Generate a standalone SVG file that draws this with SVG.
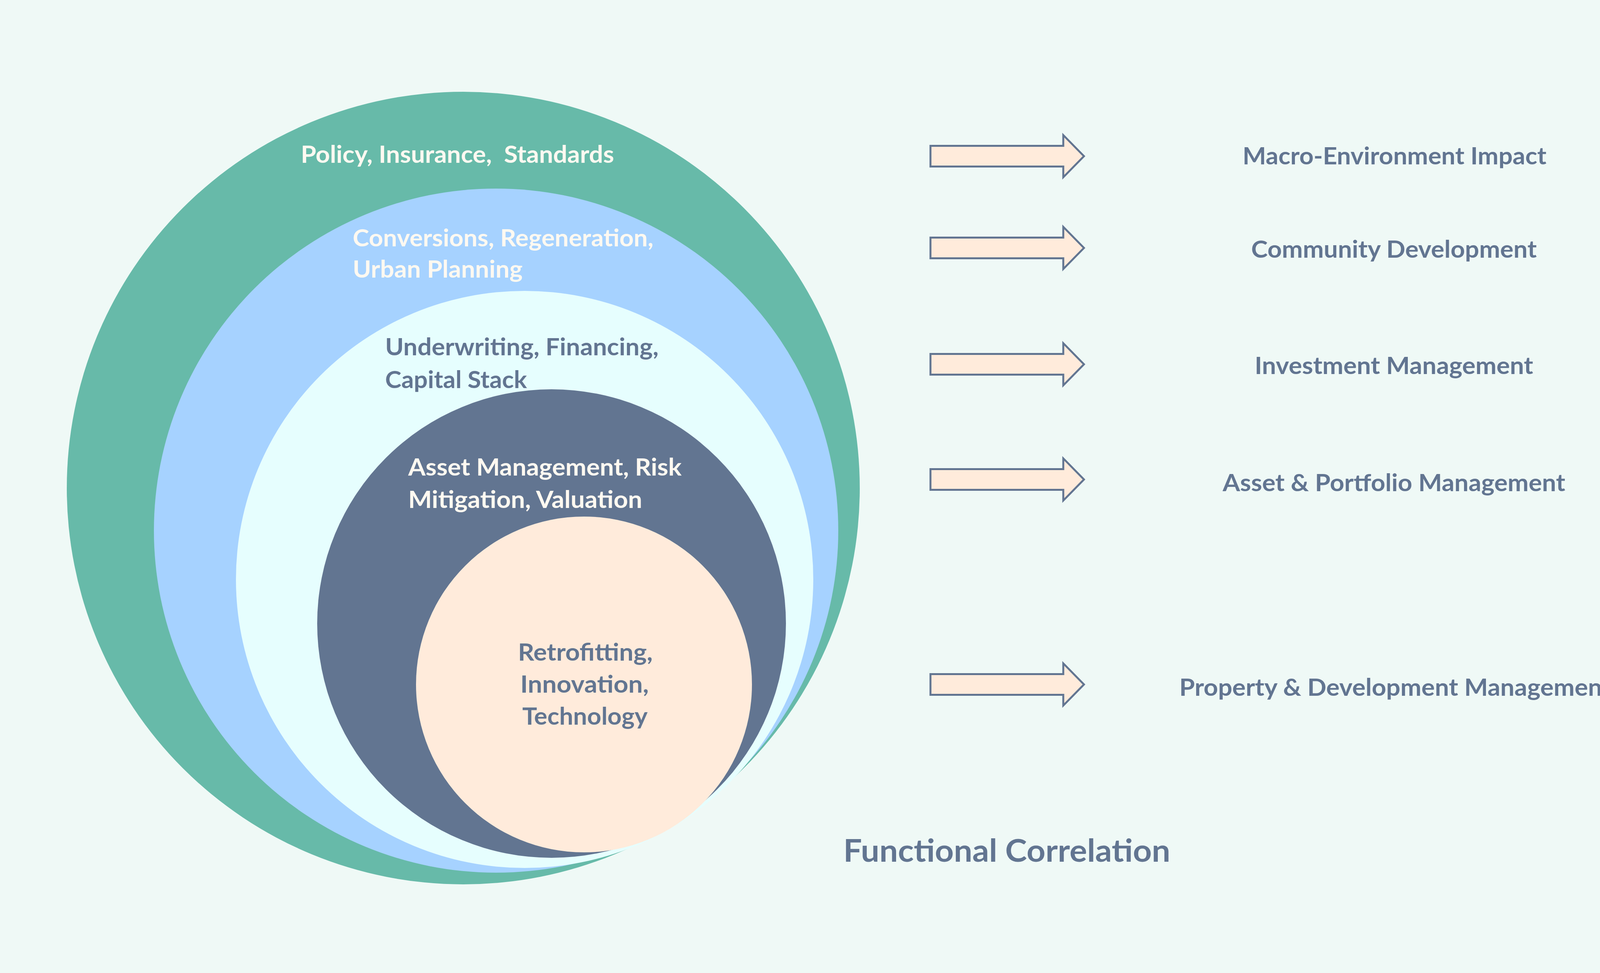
<svg xmlns="http://www.w3.org/2000/svg" xmlns:xlink="http://www.w3.org/1999/xlink" width="4406" height="2492" viewBox="0 0 4406 2492">
<style>
.t{font-family:Lato,"Open Sans","Liberation Sans",sans-serif;font-weight:700;font-size:61px}
.w{fill:#FFF9F1}
.s{fill:#627591}
.arr{fill:#FFEBDB;stroke:#627591;stroke-width:5;stroke-linejoin:miter}
</style>
<defs>
<path id="arrow" class="arr" d="M2382,-26.5 H2722 V-54 L2775,0 L2722,54 V26.5 H2382 Z"/>
</defs>
<rect x="0" y="0" width="4406" height="2492" fill="#EFF9F6"/>
<g id="ring-policy">
<circle cx="1186" cy="1250" r="1015" fill="#67BAA9"/>
</g>
<g id="ring-conversions">
<circle cx="1270" cy="1359" r="876" fill="#A6D2FF"/>
</g>
<g id="ring-underwriting">
<circle cx="1343" cy="1484" r="739" fill="#E6FEFE"/>
</g>
<g id="ring-asset">
<circle cx="1412" cy="1597" r="600" fill="#627591"/>
</g>
<g id="ring-retrofitting">
<circle cx="1495" cy="1753" r="430" fill="#FFEBDB"/>
</g>
<g id="labels-rings">
<text class="t w" x="770" y="417" textLength="802" lengthAdjust="spacingAndGlyphs" xml:space="preserve" style="white-space:pre">Policy, Insurance,  Standards</text>
<text class="t w" x="903" y="631" textLength="770" lengthAdjust="spacingAndGlyphs">Conversions, Regeneration,</text>
<text class="t w" x="903" y="711" textLength="435" lengthAdjust="spacingAndGlyphs">Urban Planning</text>
<text class="t s" x="986" y="910" textLength="700" lengthAdjust="spacingAndGlyphs">Underwriting, Financing,</text>
<text class="t s" x="986" y="994" textLength="363" lengthAdjust="spacingAndGlyphs">Capital Stack</text>
<text class="t w" x="1045" y="1218" textLength="700" lengthAdjust="spacingAndGlyphs">Asset Management, Risk</text>
<text class="t w" x="1045" y="1301" textLength="599" lengthAdjust="spacingAndGlyphs">Mitigation, Valuation</text>
<text class="t s" x="1326" y="1692" textLength="345" lengthAdjust="spacingAndGlyphs">Retrofitting,</text>
<text class="t s" x="1332" y="1774" textLength="329" lengthAdjust="spacingAndGlyphs">Innovation,</text>
<text class="t s" x="1337" y="1856" textLength="321" lengthAdjust="spacingAndGlyphs">Technology</text>
</g>
<g id="connectors">
<use xlink:href="#arrow" transform="translate(0,400)"/>
<use xlink:href="#arrow" transform="translate(0,635)"/>
<use xlink:href="#arrow" transform="translate(0,933)"/>
<use xlink:href="#arrow" transform="translate(0,1228)"/>
<use xlink:href="#arrow" transform="translate(0,1753)"/>
</g>
<g id="node-macro">
<text class="t s" x="3181" y="421" textLength="778" lengthAdjust="spacingAndGlyphs">Macro-Environment Impact</text>
</g>
<g id="node-community">
<text class="t s" x="3203" y="660" textLength="731" lengthAdjust="spacingAndGlyphs">Community Development</text>
</g>
<g id="node-investment">
<text class="t s" x="3212" y="958" textLength="713" lengthAdjust="spacingAndGlyphs">Investment Management</text>
</g>
<g id="node-portfolio">
<text class="t s" x="3130" y="1258" textLength="877" lengthAdjust="spacingAndGlyphs">Asset &amp; Portfolio Management</text>
</g>
<g id="node-property">
<text class="t s" x="3019" y="1782" textLength="1106" lengthAdjust="spacingAndGlyphs">Property &amp; Development Management</text>
</g>
<g id="title">
<text class="t s" x="2159" y="2207" style="font-size:81px" textLength="837" lengthAdjust="spacingAndGlyphs">Functional Correlation</text>
</g>
</svg>
